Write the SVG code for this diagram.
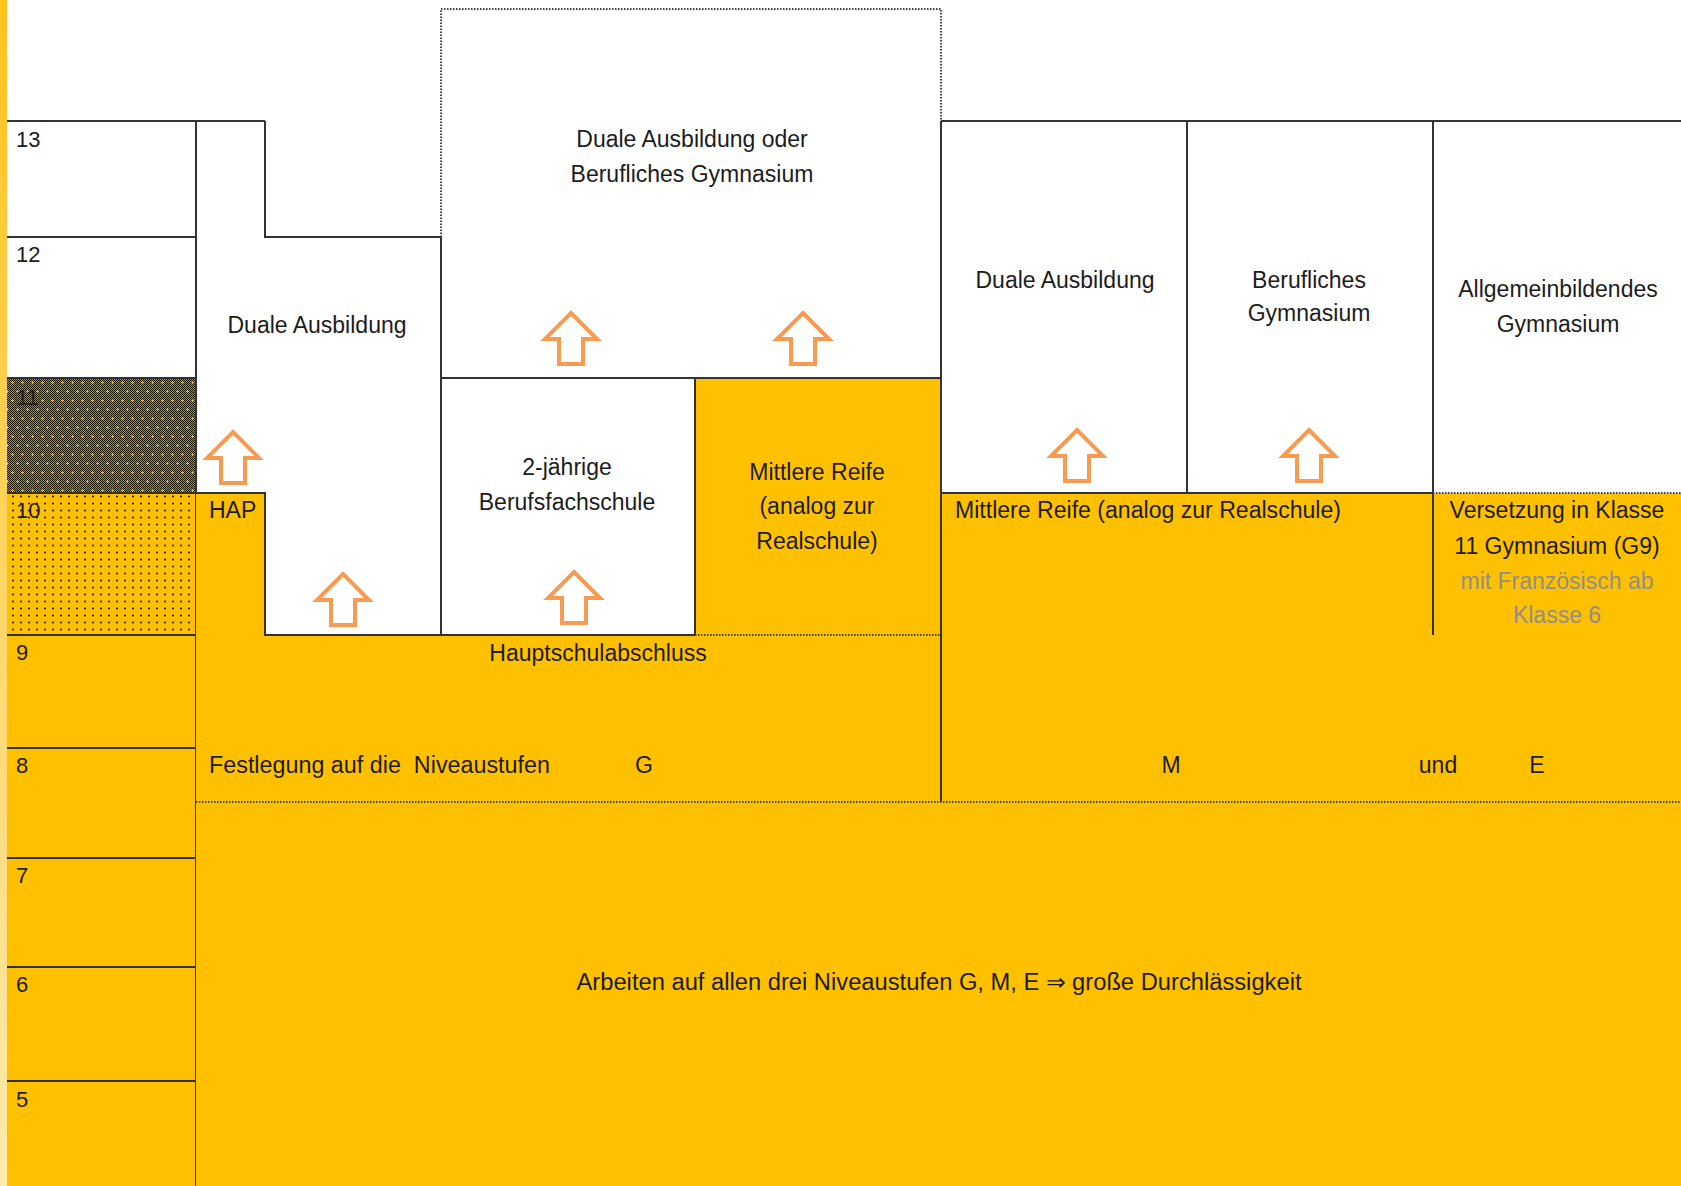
<svg xmlns="http://www.w3.org/2000/svg" width="1681" height="1186" viewBox="0 0 1681 1186">
<style>
 .t{font-family:"Liberation Sans",Arial,sans-serif;font-size:23px;fill:#1c1c1c}
 .m{text-anchor:middle}
 .n{font-family:"Liberation Sans",Arial,sans-serif;font-size:22px;fill:#1c1c1c}
 .g{fill:#8f8f8f}
 .ln{stroke:#333;stroke-width:2;fill:none}
 .dt{stroke:#444;stroke-width:2;stroke-dasharray:1.5 1.5;fill:none}
 .ar{fill:#fff;stroke:#F79A52;stroke-width:4;stroke-linejoin:miter}
 .y{fill:#FFC000}
</style>
<defs>
 <linearGradient id="strip" x1="0" y1="0" x2="0" y2="1">
  <stop offset="0" stop-color="#FFC21E"/>
  <stop offset="1" stop-color="#FFEAAE"/>
 </linearGradient>
 <pattern id="chk" width="2" height="2" patternUnits="userSpaceOnUse">
  <rect width="2" height="2" fill="#1e1800"/>
  <rect width="1" height="1" fill="#B88A00"/>
  <rect x="1" y="1" width="1" height="1" fill="#B88A00"/>
 </pattern>
 <pattern id="cross" width="10" height="18" patternUnits="userSpaceOnUse" x="7" y="378">
  <rect width="10" height="18" fill="url(#chk)"/>
  <rect x="4" y="4" width="3" height="1" fill="#FFC000"/>
  <rect x="5" y="3" width="1" height="3" fill="#FFC000"/>
  <rect x="-1" y="13" width="3" height="1" fill="#FFC000"/>
  <rect x="0" y="12" width="1" height="3" fill="#FFC000"/>
  <rect x="9" y="13" width="3" height="1" fill="#FFC000"/>
  <rect x="10" y="12" width="1" height="3" fill="#FFC000"/>
 </pattern>
 <pattern id="dots" width="8" height="7" patternUnits="userSpaceOnUse" x="9" y="493">
  <rect width="8" height="7" fill="#FFC000"/>
  <circle cx="4" cy="3.5" r="1" fill="#111"/>
 </pattern>
 <path id="arrow" d="M0,0 L26,26 L12,26 L12,51 L-12,51 L-12,26 L-26,26 Z"/>
</defs>

<rect width="1681" height="1186" fill="#fff"/>
<rect x="0" y="0" width="7" height="1186" fill="url(#strip)"/>

<g id="grades">
 <rect x="7" y="378" width="189" height="115" fill="url(#cross)"/>
 <rect x="7" y="493" width="189" height="142" fill="url(#dots)"/>
 <rect x="7" y="635" width="189" height="551" class="y"/>
 <path class="ln" d="M7,121 H265 M7,237 H196 M7,378 H196 M7,493 H196 M7,635 H196 M7,748 H196 M7,858 H196 M7,967 H196 M7,1081 H196 M196,121 V1186"/>
 <text class="n" x="16" y="147">13</text>
 <text class="n" x="16" y="262">12</text>
 <text class="n" x="16" y="405">11</text>
 <text class="n" x="16" y="518">10</text>
 <text class="n" x="16" y="660">9</text>
 <text class="n" x="16" y="773">8</text>
 <text class="n" x="16" y="883">7</text>
 <text class="n" x="16" y="992">6</text>
 <text class="n" x="16" y="1107">5</text>
</g>

<g id="yellow-base">
 <path class="y" d="M196,493 H265 V635 H695 V378 H941 V493 H1681 V1186 H196 Z"/>
</g>

<g id="duale-ausbildung-left">
 <path class="ln" d="M265,121 V237 H441 M196,493 H265 V635 H441"/>
 <text class="t m" x="317" y="333">Duale Ausbildung</text>
</g>

<g id="hap">
 <text class="t" x="209" y="518">HAP</text>
</g>

<g id="duale-oder-beruflich">
 <path class="dt" d="M441,237 V9 H941 V121"/>
 <path class="ln" d="M441,237 V635 M441,378 H941"/>
 <text class="t m" x="692" y="147">Duale Ausbildung oder</text>
 <text class="t m" x="692" y="182">Berufliches Gymnasium</text>
</g>

<g id="berufsfachschule">
 <path class="ln" d="M441,635 H695 V378"/>
 <text class="t m" x="567" y="475">2-jährige</text>
 <text class="t m" x="567" y="510">Berufsfachschule</text>
</g>

<g id="mittlere-reife-g">
 <path class="dt" d="M695,635 H941"/>
 <text class="t m" x="817" y="480">Mittlere Reife</text>
 <text class="t m" x="817" y="514">(analog zur</text>
 <text class="t m" x="817" y="549">Realschule)</text>
</g>

<g id="hauptschulabschluss">
 <text class="t m" x="598" y="661">Hauptschulabschluss</text>
</g>

<g id="right-columns">
 <path class="ln" d="M941,121 H1681 M941,121 V802 M1187,121 V493 M1433,121 V635 M941,493 H1433"/>
 <path class="dt" d="M1433,493 H1681"/>
 <text class="t m" x="1065" y="288">Duale Ausbildung</text>
 <text class="t m" x="1309" y="288">Berufliches</text>
 <text class="t m" x="1309" y="321">Gymnasium</text>
 <text class="t m" x="1558" y="297">Allgemeinbildendes</text>
 <text class="t m" x="1558" y="332">Gymnasium</text>
</g>

<g id="mittlere-reife-m">
 <text class="t" x="955" y="518" textLength="386" lengthAdjust="spacingAndGlyphs">Mittlere Reife (analog zur Realschule)</text>
</g>

<g id="versetzung">
 <text class="t m" x="1557" y="518">Versetzung in Klasse</text>
 <text class="t m" x="1557" y="554">11 Gymnasium (G9)</text>
 <text class="t m g" x="1557" y="589">mit Französisch ab</text>
 <text class="t m g" x="1557" y="623">Klasse 6</text>
</g>

<g id="festlegung">
 <path class="dt" d="M196,802 H1681"/>
 <text class="t" x="209" y="773" xml:space="preserve" textLength="341" lengthAdjust="spacingAndGlyphs">Festlegung auf die  Niveaustufen</text>
 <text class="t m" x="644" y="773">G</text>
 <text class="t m" x="1171" y="773">M</text>
 <text class="t m" x="1438" y="773">und</text>
 <text class="t m" x="1537" y="773">E</text>
</g>

<g id="arbeiten">
 <text class="t m" x="939" y="990" textLength="725" lengthAdjust="spacingAndGlyphs">Arbeiten auf allen drei Niveaustufen G, M, E ⇒ große Durchlässigkeit</text>
</g>

<g id="connectors">
 <use href="#arrow" class="ar" x="233" y="432"/>
 <use href="#arrow" class="ar" x="343" y="574"/>
 <use href="#arrow" class="ar" x="574" y="572"/>
 <use href="#arrow" class="ar" x="571" y="313"/>
 <use href="#arrow" class="ar" x="803" y="313"/>
 <use href="#arrow" class="ar" x="1077" y="430"/>
 <use href="#arrow" class="ar" x="1309" y="430"/>
</g>
</svg>
